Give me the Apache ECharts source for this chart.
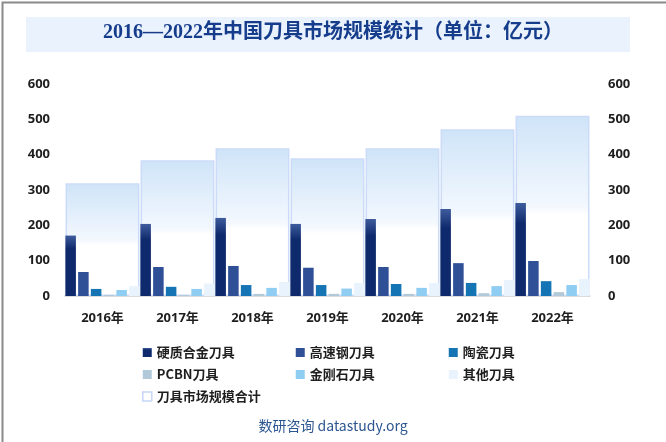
<!DOCTYPE html>
<html><head><meta charset="utf-8">
<script src="https://cdn.jsdelivr.net/npm/echarts@6/dist/echarts.min.js"></script>
<style>html,body{margin:0;padding:0;background:#fff}#c{width:666px;height:442px}</style>
</head><body><div id="c"></div>
<script>
var years = ['2016年','2017年','2018年','2019年','2020年','2021年','2022年'];
var hardAlloy = [171, 204, 221, 204, 218, 246, 263];
var hss = [68, 82, 85, 80, 82, 93, 99];
var ceramic = [20, 26, 31, 31, 34, 37, 42];
var pcbn = [3, 3, 6, 6, 6, 8, 11];
var diamond = [17, 20, 23, 21, 23, 28, 31];
var other = [28, 35, 40, 37, 37, 45, 48];
var total = [319, 384, 418, 390, 418, 472, 510];
var yTicks = [0, 100, 200, 300, 400, 500, 600];

var names = ['硬质合金刀具','高速钢刀具','陶瓷刀具','PCBN刀具','金刚石刀具','其他刀具','刀具市场规模合计'];
var colors = ['#0e2a6c','#2f5097','#1474b4','#b2c9d9','#8fcdf3','#e9f3fd'];
var dataSets = [hardAlloy, hss, ceramic, pcbn, diamond, other];

var chart = echarts.init(document.getElementById('c'));
var series = [{
  name: names[6], type: 'bar', xAxisIndex: 1, yAxisIndex: 1, data: total,
  barCategoryGap: '1.5%', z: 1, silent: true,
  itemStyle: {
    color: {type:'linear', x:0, y:0, x2:0, y2:1, colorStops:[
      {offset:0, color:'#cfe4f8'},{offset:0.5, color:'#f3f8fe'},{offset:0.55, color:'#ffffff'},{offset:1, color:'#ffffff'}]},
    borderColor:'#cbdbf8', borderWidth:1.5
  }
}];
dataSets.forEach(function(d, i){
  var s = {name: names[i], type:'bar', xAxisIndex:0, yAxisIndex:0, data:d, z:3,
    barGap:'21%', barCategoryGap:'1%', itemStyle:{color:colors[i]}};
  if (i === 0) {
    s.itemStyle.color = {type:'linear', x:0, y:0, x2:0, y2:1, colorStops:[
      {offset:0, color:'#3e5c9d'},{offset:0.22, color:'#0e2a6c'},{offset:1, color:'#0e2a6c'}]};
  }
  series.push(s);
});

var labelStyle = {color:'#1e1e1e', fontSize:13, fontWeight:'bold', fontFamily:'"Open Sans","Noto Sans CJK SC",sans-serif'};
chart.setOption({
  animation:false,
  backgroundColor:'#ffffff',
  graphic:[
    {type:'rect', left:0, top:0, shape:{width:665, height:441}, style:{fill:'none', stroke:'#8a8a8a', lineWidth:2}, z:100},
    {type:'rect', left:26, top:17, shape:{width:604, height:35}, style:{fill:'#eaf2fd'}, z:0},
    {type:'text', left:'center', top:23, style:{text:'2016—2022年中国刀具市场规模统计（单位：亿元）', fill:'#163c8c',
      font:'bold 20px "Liberation Serif","Noto Sans CJK SC",serif'}, z:1},
    {type:'text', left:'center', top:419, style:{text:'数研咨询 datastudy.org', fill:'#2b5590',
      font:'14px "Noto Sans CJK SC","Open Sans",sans-serif'}}
  ],
  grid:{left:65, right:76, top:84, bottom:146},
  legend:{
    left:137, top:339, width:470, itemGap:5, itemWidth:9, itemHeight:9, icon:'rect',
    textStyle:{color:'#1e1e1e', fontSize:13, fontWeight:'bold', width:134, lineHeight:17,
      fontFamily:'"Noto Sans CJK SC",sans-serif'},
    data: names.slice(0,6).map(function(n){return {name:n};}).concat([
      {name:names[6], itemStyle:{color:'#ffffff', borderColor:'#c5d6f6', borderWidth:1.5}}])
  },
  xAxis:[
    {type:'category', data:years, axisTick:{show:false},
     axisLine:{lineStyle:{color:'#cfcfcf', width:1.5}}, axisLabel:Object.assign({margin:16}, labelStyle)},
    {type:'category', data:years, show:false}
  ],
  yAxis:[
    {type:'value', min:0, max:600, interval:100, splitLine:{show:false}, axisLine:{show:false}, axisTick:{show:false},
     axisLabel:Object.assign({margin:15}, labelStyle)},
    {type:'value', min:0, max:600, interval:100, splitLine:{show:false}, axisLine:{show:false}, axisTick:{show:false},
     axisLabel:Object.assign({margin:18}, labelStyle)}
  ],
  series: series
});
</script></body></html>
